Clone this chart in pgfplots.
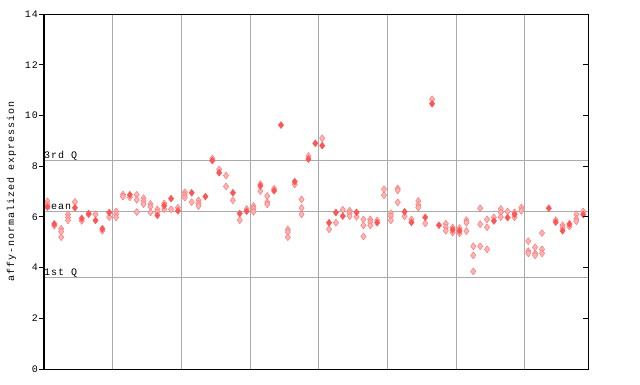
\documentclass[border=0pt]{standalone}
\usepackage{fontspec}
\setmainfont[LetterSpace=10]{Liberation Mono}
\usepackage{pgfplots}
\pgfplotsset{compat=1.18}
\definecolor{fred}{RGB}{255,85,85}
\definecolor{cred}{RGB}{255,180,180}
\definecolor{credd}{RGB}{255,110,110}
\definecolor{gridc}{RGB}{170,170,170}
\begin{document}
\fontsize{10pt}{12pt}\selectfont
\begin{tikzpicture}
\path[use as bounding box] (-44pt,-15pt) rectangle (596pt,369pt);
\begin{axis}[at={(0,0)}, anchor=south west, scale only axis,
  width=544pt, height=355pt,
  xmin=0, xmax=79.2, ymin=0, ymax=14,
  ytick={0,2,...,14}, xtick={10,20,...,70}, xticklabels={},
  xmajorgrids, grid style={gridc, line width=1pt},
  xtick style={draw=none},
  ytick pos=left, tick align=outside, major tick length=5pt,
  tick style={black, line width=0.8pt},
  axis line style={black, line width=1pt},
  yticklabel style={inner sep=1pt, font=\fontsize{10pt}{12pt}\selectfont},
  /pgf/number format/assume math mode=true,
  clip=false]
\addplot[gridc, line width=1pt, forget plot] coordinates {(0,8.23) (79.2,8.23)};
\addplot[gridc, line width=1pt, forget plot] coordinates {(0,6.22) (79.2,6.22)};
\addplot[gridc, line width=1pt, forget plot] coordinates {(0,3.62) (79.2,3.62)};
\node[anchor=base west, inner sep=0pt] at (axis cs:0,8.23) [yshift=2pt] {3rd Q};
\node[anchor=base west, inner sep=0pt] at (axis cs:0,6.22) [yshift=2pt] {mean};
\node[anchor=base west, inner sep=0pt] at (axis cs:0,3.62) [yshift=2pt] {1st Q};
% checkered (light) points
\addplot[only marks, mark=diamond*, mark size=3.5pt, mark options={draw=credd, fill=cred, line width=0.4pt}] coordinates {
(0.5,6.61) (0.5,6.48)
(1.5,5.65)
(2.5,5.53) (2.5,5.42) (2.5,5.20)
(3.5,6.10) (3.5,5.98) (3.5,5.86)
(4.5,6.59)
(5.5,5.84)
(6.5,6.09)
(7.5,6.10)
(8.5,5.45)
(9.5,5.99)
(10.5,6.21) (10.5,6.10) (10.5,5.98)
(11.5,6.88) (11.5,6.80)
(12.5,6.77)
(13.5,6.87) (13.5,6.67) (13.5,6.19)
(14.5,6.74) (14.5,6.62) (14.5,6.50)
(15.5,6.51) (15.5,6.40) (15.5,6.18)
(16.5,6.30) (16.5,6.18)
(17.5,6.53) (17.5,6.30)
(18.5,6.30)
(19.5,6.36)
(20.5,6.97) (20.5,6.86) (20.5,6.76)
(21.5,6.58)
(22.5,6.65) (22.5,6.53) (22.5,6.43)
(24.5,8.30)
(25.5,7.87)
(26.5,7.63) (26.5,7.20)
(27.5,6.65)
(28.5,5.87)
(29.5,6.31)
(30.5,6.43) (30.5,6.32) (30.5,6.20)
(31.5,7.29) (31.5,7.02)
(32.5,6.82) (32.5,6.58) (32.5,6.49)
(33.5,7.11)
(35.5,5.50) (35.5,5.40) (35.5,5.20)
(36.5,7.28)
(37.5,6.69) (37.5,6.35) (37.5,6.10)
(38.5,8.40)
(40.5,9.10)
(41.5,5.51)
(42.5,5.77)
(43.5,6.28)
(44.5,6.24) (44.5,6.14) (44.5,6.03)
(45.5,6.00)
(46.5,5.90) (46.5,5.66) (46.5,5.23)
(47.5,5.90) (47.5,5.79) (47.5,5.66)
(48.5,5.86)
(49.5,7.09) (49.5,6.85)
(50.5,6.14) (50.5,6.03) (50.5,5.86)
(51.5,7.12) (51.5,7.04) (51.5,6.57)
(52.5,6.02)
(53.5,5.90)
(54.5,6.63) (54.5,6.48) (54.5,6.37)
(55.5,5.74)
(56.5,10.64)
(58.5,5.73) (58.5,5.59) (58.5,5.45)
(59.5,5.58) (59.5,5.38)
(60.5,5.56) (60.5,5.35)
(61.5,5.87) (61.5,5.77) (61.5,5.44)
(62.5,4.84) (62.5,4.48) (62.5,3.85)
(63.5,6.34) (63.5,5.71) (63.5,4.84)
(64.5,5.90) (64.5,5.59) (64.5,4.72)
(65.5,5.98)
(66.5,6.31) (66.5,6.17) (66.5,5.99)
(67.5,6.21)
(68.5,6.18) (68.5,5.98)
(69.5,6.37) (69.5,6.24)
(70.5,5.04) (70.5,4.65) (70.5,4.56)
(71.5,4.80) (71.5,4.56) (71.5,4.48)
(72.5,5.36) (72.5,4.72) (72.5,4.56)
(74.5,5.87)
(75.5,5.67) (75.5,5.56)
(76.5,5.62)
(77.5,6.10) (77.5,5.92) (77.5,5.83)
(78.5,6.21)
};
% solid points
\addplot[only marks, mark=diamond*, mark size=3.5pt, mark options={draw=fred, fill=fred, line width=0.4pt}] coordinates {
(0.5,6.39) (1.5,5.72) (4.5,6.36) (5.5,5.94) (6.5,6.13) (7.5,5.86) (8.5,5.53) (9.5,6.17)
(12.5,6.87) (16.5,6.06) (17.5,6.44) (18.5,6.72) (19.5,6.24)
(21.5,6.95) (23.5,6.80) (24.5,8.22) (25.5,7.74) (27.5,6.95) (28.5,6.13) (29.5,6.22)
(31.5,7.22) (33.5,7.03) (34.5,9.62) (36.5,7.39) (38.5,8.28) (39.5,8.90)
(40.5,8.81) (41.5,5.77) (42.5,6.17) (43.5,6.03) (45.5,6.18) (48.5,5.77)
(52.5,6.20) (53.5,5.78) (55.5,5.98) (56.5,10.46) (57.5,5.67) (59.5,5.49)
(60.5,5.45) (65.5,5.84) (67.5,5.97) (68.5,6.10) (73.5,6.34) (74.5,5.79)
(75.5,5.45) (76.5,5.72) (78.5,6.09)
};
\end{axis}
\begin{axis}[at={(0,0)}, anchor=south west, scale only axis,
  width=544pt, height=355pt,
  xmin=0, xmax=79.2, ymin=0, ymax=14,
  ytick={0,2,...,14}, yticklabels={}, xtick=\empty,
  ytick pos=right, tick align=inside, major tick length=5pt,
  tick style={black, line width=0.8pt},
  axis line style={black, line width=1pt}]
\end{axis}
\node[rotate=90] at (-32.5pt,177.5pt) {affy-normalized expression};
\end{tikzpicture}
\end{document}
